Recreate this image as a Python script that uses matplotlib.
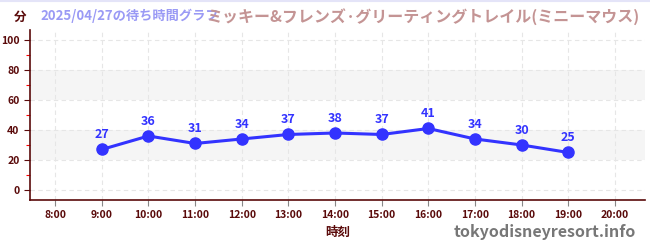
import numpy as np
import matplotlib

matplotlib.use("Agg")

import matplotlib.pyplot as plt
from matplotlib.ticker import MultipleLocator

plt.rcParams["font.family"] = ["Noto Sans CJK JP", "DejaVu Sans"]

# ==================================================
# DATA
# ==================================================

hours = [9, 10, 11, 12, 13, 14, 15, 16, 17, 18, 19]
wait_min = [27, 36, 31, 34, 37, 38, 37, 41, 34, 30, 25]

tick_hours = list(range(8, 21))
tick_labels = [f"{h}:00" for h in tick_hours]

date_title = "2025/04/27の待ち時間グラフ"
attraction = "ミッキー&フレンズ·グリーティングトレイル(ミニーマウス)"

DARK = "#5a0a0a"
BLUE = "#3333ff"

# ==================================================
# FIGURE
# ==================================================

fig = plt.figure(figsize=(6.5, 2.5), dpi=100)
ax = fig.add_axes([0.046, 0.2, 0.946, 0.68])

ax.set_xlim(7.46, 20.64)
ax.set_ylim(-6.7, 106.7)

# background bands
for lo, hi in [(20, 40), (60, 80)]:
    ax.axhspan(lo, hi, color="#f5f5f5", zorder=0, lw=0)

ax.grid(True, which="major", color="#e6e6e6", linestyle=(0, (4, 3)),
        linewidth=0.8, zorder=1)

ax.plot(hours, wait_min, color=BLUE, linewidth=2.2, marker="o",
        markersize=8, zorder=3)

for h, v in zip(hours, wait_min):
    ax.annotate(str(v), (h, v), xytext=(0, 6), textcoords="offset points",
                ha="center", va="bottom", color=BLUE, fontsize=9,
                weight="bold")

ax.set_xticks(tick_hours)
ax.set_xticklabels(tick_labels)
ax.set_yticks(range(0, 101, 20))
ax.yaxis.set_minor_locator(MultipleLocator(10))

ax.tick_params(axis="both", which="major", labelsize=7.5, colors=DARK,
               length=4, width=0.8)
ax.tick_params(axis="y", which="minor", length=3, color="red", width=0.8)
ax.tick_params(axis="x", which="major", color="#888888")
for lbl in ax.get_xticklabels() + ax.get_yticklabels():
    lbl.set_color(DARK)
    lbl.set_fontweight("bold")

for side in ["top", "right"]:
    ax.spines[side].set_visible(False)
for side in ["left", "bottom"]:
    ax.spines[side].set_color(DARK)
    ax.spines[side].set_linewidth(1.2)

ax.set_xlabel("時刻", fontsize=9, color=DARK, weight="bold", labelpad=4)

# ==================================================
# TITLES
# ==================================================

fig.text(0.031, 0.93, "分", fontsize=9, color=DARK, weight="bold",
         ha="center", va="center")
fig.text(0.062, 0.935, date_title, fontsize=9.5, color="#9a9af5",
         weight="bold", va="center")
fig.text(0.985, 0.935, attraction, fontsize=11.5, color="#c49494",
         weight="bold", va="center", ha="right")
fig.text(0.978, 0.07, "tokyodisneyresort.info", fontsize=11.5,
         color="#777777", weight="bold", ha="right", va="center")

fig.add_artist(plt.Line2D([0, 1], [0.997, 0.997], color="#e4e4f8",
                          linewidth=1.5, transform=fig.transFigure))

plt.savefig("out.png", dpi=100)
plt.close()
